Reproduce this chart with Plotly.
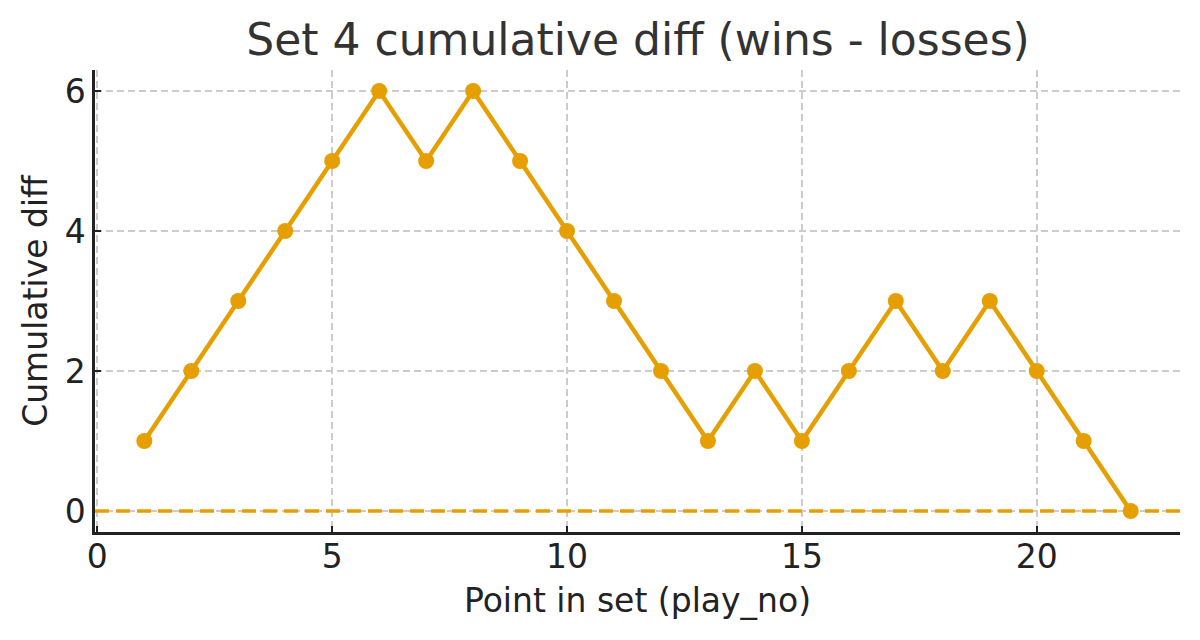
import plotly.graph_objects as go

play_no = list(range(1, 23))
cum_diff = [1, 2, 3, 4, 5, 6, 5, 6, 5, 4, 3, 2, 1, 2, 1, 2, 3, 2, 3, 2, 1, 0]
x_ticks = [0, 5, 10, 15, 20]
y_ticks = [0, 2, 4, 6]

color = "#E69F00"
font = "DejaVu Sans"

fig = go.Figure()
fig.add_hline(y=0, line=dict(color=color, width=3.5, dash="14px,7px"), layer="above")
fig.add_trace(go.Scatter(
    x=play_no, y=cum_diff, mode="lines+markers",
    line=dict(color=color, width=4.5),
    marker=dict(color=color, size=16),
    showlegend=False,
))

axis_common = dict(
    showline=True, linecolor="#222222", linewidth=2.5,
    ticks="inside", ticklen=6, tickwidth=2, tickcolor="#222222",
    showgrid=True, gridcolor="#cccccc", griddash="7px,4px", gridwidth=1.5,
    zeroline=False, mirror=False, automargin=False,
    tickfont=dict(family=font, size=33, color="#222222"),
)

fig.update_layout(
    width=1200, height=640,
    paper_bgcolor="white", plot_bgcolor="white",
    margin=dict(l=87, r=28, t=62, b=116, autoexpand=False),
    title=dict(text="Set 4 cumulative diff (wins - losses)", x=0.525, xanchor="center",
               y=0.95, yanchor="middle",
               font=dict(family=font, size=44, color="#333333")),
    xaxis=dict(axis_common, range=[-0.05, 23.05], tickvals=x_ticks,
               ticklabelstandoff=-6,
               title=dict(text="Point in set (play_no)", standoff=14,
                          font=dict(family=font, size=33, color="#222222"))),
    yaxis=dict(axis_common, range=[-0.3, 6.3], tickvals=y_ticks,
               title=dict(text="Cumulative diff", standoff=8,
                          font=dict(family=font, size=33, color="#222222"))),
)

fig.write_html("out.html")
